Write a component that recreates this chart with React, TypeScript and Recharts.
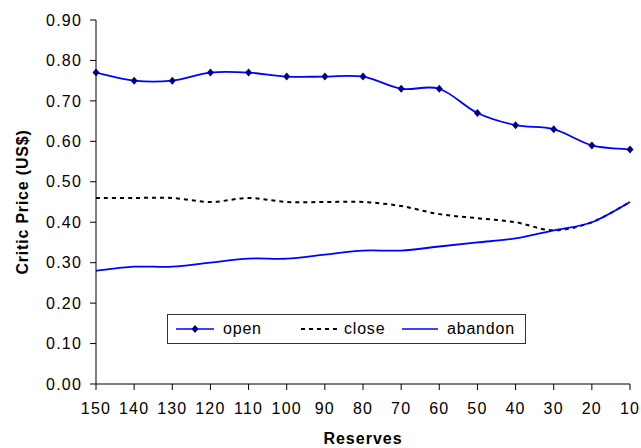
import React from 'react';
import { LineChart, Line, XAxis, YAxis, Legend } from 'recharts';

const RESERVES = ['150', '140', '130', '120', '110', '100', '90', '80', '70', '60', '50', '40', '30', '20', '10'];
const OPEN = [0.77, 0.75, 0.75, 0.77, 0.77, 0.76, 0.76, 0.76, 0.73, 0.73, 0.67, 0.64, 0.63, 0.59, 0.58];
const CLOSE = [0.46, 0.46, 0.46, 0.45, 0.46, 0.45, 0.45, 0.45, 0.44, 0.42, 0.41, 0.4, 0.38, 0.4, 0.45];
const ABANDON = [0.28, 0.29, 0.29, 0.3, 0.31, 0.31, 0.32, 0.33, 0.33, 0.34, 0.35, 0.36, 0.38, 0.4, 0.45];
const Y_TICKS = [0, 0.1, 0.2, 0.3, 0.4, 0.5, 0.6, 0.7, 0.8, 0.9];

const data = RESERVES.map((r, i) => ({ r, open: OPEN[i], close: CLOSE[i], abandon: ABANDON[i] }));

const FONT = '"Liberation Sans", Arial, sans-serif';

// Excel-style smoothed line (Catmull-Rom as bezier segments)
function smoothCurve(context: any) {
  let pts: number[][] = [];
  return {
    areaStart() {},
    areaEnd() {},
    lineStart() { pts = []; },
    point(x: number, y: number) { pts.push([+x, +y]); },
    lineEnd() {
      if (!pts.length) return;
      context.moveTo(pts[0][0], pts[0][1]);
      for (let i = 0; i < pts.length - 1; i++) {
        const p0 = pts[i - 1] || pts[i];
        const p1 = pts[i];
        const p2 = pts[i + 1];
        const p3 = pts[i + 2] || p2;
        context.bezierCurveTo(
          p1[0] + (p2[0] - p0[0]) / 6, p1[1] + (p2[1] - p0[1]) / 6,
          p2[0] - (p3[0] - p1[0]) / 6, p2[1] - (p3[1] - p1[1]) / 6,
          p2[0], p2[1],
        );
      }
    },
  };
}

const Diamond = (props: any) => {
  const { cx, cy } = props;
  if (cx == null || cy == null) return null;
  return <path d={`M${cx},${cy - 4}L${cx + 3.5},${cy}L${cx},${cy + 4}L${cx - 3.5},${cy}Z`} fill="#000080" />;
};

const LegendBox = () => (
  <div style={{
    border: '1px solid #333', height: 30, boxSizing: 'border-box', display: 'flex', alignItems: 'center',
    fontFamily: FONT, fontSize: 16, letterSpacing: 0.8, color: '#000', background: '#fff',
  }}>
    <svg width={48} height={10} style={{ marginLeft: 6 }}>
      <line x1={2} y1={5} x2={40} y2={5} stroke="#0000ff" strokeWidth={1.5} />
      <path d="M21,1L24.5,5L21,9L17.5,5Z" fill="#000080" />
    </svg>
    <span style={{ marginLeft: 1, width: 76 }}>open</span>
    <svg width={42} height={10}>
      <line x1={2} y1={5} x2={38} y2={5} stroke="#000" strokeWidth={2} strokeDasharray="4 4" />
    </svg>
    <span style={{ marginLeft: 3, width: 56 }}>close</span>
    <svg width={42} height={10}>
      <line x1={2} y1={5} x2={38} y2={5} stroke="#0000ff" strokeWidth={1.5} />
    </svg>
    <span style={{ marginLeft: 5 }}>abandon</span>
  </div>
);

export default function App() {
  return (
    <div style={{ position: 'absolute', left: 0, top: 0, background: '#fff' }}>
      <LineChart width={641} height={448} data={data} margin={{ top: 20, right: 11, bottom: 0, left: 0 }}>
        <XAxis
          dataKey="r"
          stroke="#000"
          tickSize={6}
          tickMargin={13}
          height={64}
          interval={0}
          tick={{ fill: '#000', fontSize: 16, fontFamily: FONT, letterSpacing: 1.2 }}
          label={{ value: 'Reserves', position: 'insideBottom', offset: 4, fill: '#000', fontSize: 16, fontWeight: 'bold', fontFamily: FONT, letterSpacing: 1 }}
        />
        <XAxis xAxisId="top" dataKey="r" orientation="top" stroke="#000" tick={false} tickLine={false} height={0} />
        <YAxis
          domain={[0, 0.9]}
          ticks={Y_TICKS}
          stroke="#000"
          tickSize={6}
          tickMargin={8}
          width={96}
          tickFormatter={(v: number) => v.toFixed(2)}
          tick={{ fill: '#000', fontSize: 16, fontFamily: FONT, letterSpacing: 1.2 }}
          label={{ value: 'Critic Price (US$)', angle: -90, position: 'insideLeft', offset: 22, style: { textAnchor: 'middle' }, fill: '#000', fontSize: 16, fontWeight: 'bold', fontFamily: FONT, letterSpacing: 0.8 }}
        />
        <YAxis yAxisId="right" orientation="right" domain={[0, 0.9]} stroke="#000" tick={false} tickLine={false} width={0} />
        <Legend
          verticalAlign="middle"
          align="center"
          content={<LegendBox />}
          wrapperStyle={{ position: 'absolute', left: 167, top: 314, width: 359, height: 30 }}
        />
        <Line dataKey="close" name="close" type={smoothCurve as any} stroke="#000" strokeWidth={2} strokeDasharray="4 4" dot={false} isAnimationActive={false} />
        <Line dataKey="abandon" name="abandon" type={smoothCurve as any} stroke="#0000ff" strokeWidth={1.8} dot={false} isAnimationActive={false} />
        <Line dataKey="open" name="open" type={smoothCurve as any} stroke="#0000ff" strokeWidth={1.8} dot={<Diamond />} isAnimationActive={false} />
      </LineChart>
    </div>
  );
}
